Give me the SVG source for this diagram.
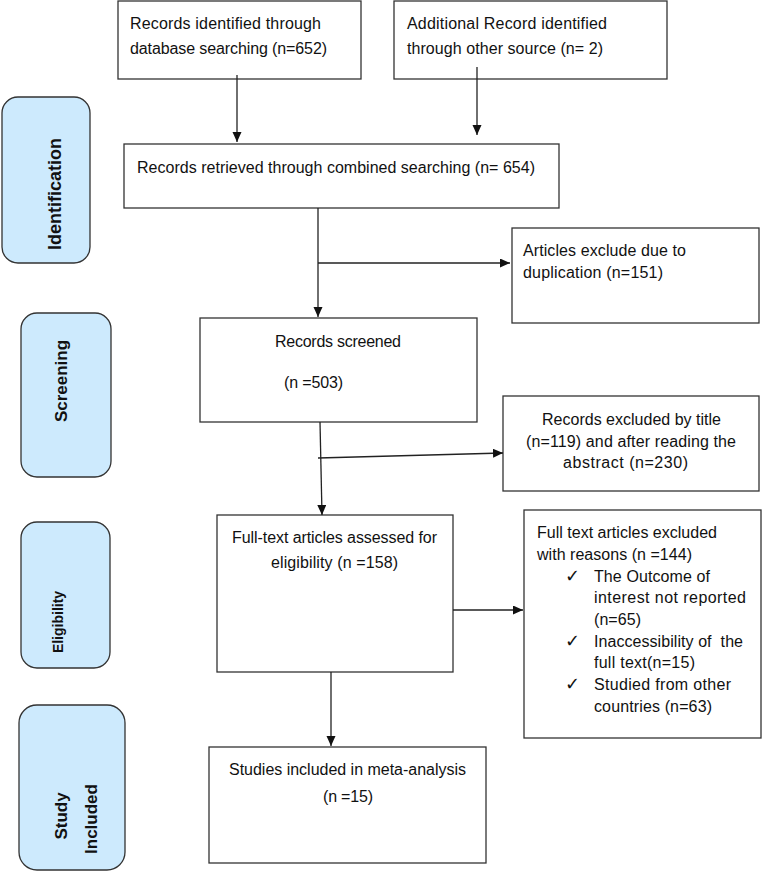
<svg xmlns="http://www.w3.org/2000/svg" width="762" height="872" viewBox="0 0 762 872">
<defs>
<style>
.box{fill:#fff;stroke:#333;stroke-width:1.3}
.side{fill:#cdeafd;stroke:#333;stroke-width:1.3}
.t{font-family:"Liberation Sans",Arial,sans-serif;font-size:16px;fill:#111}
.s{font-family:"Liberation Sans",Arial,sans-serif;font-weight:bold;fill:#111;text-anchor:middle}
.ck{font-family:"DejaVu Sans",sans-serif;font-size:18px;fill:#111}
.ln{fill:none;stroke:#222;stroke-width:1.3}
</style>
<marker id="ah" markerUnits="userSpaceOnUse" markerWidth="11" markerHeight="10" refX="10" refY="4.5" orient="auto">
<path d="M0,0 L10,4.5 L0,9 z" fill="#111"/>
</marker>
</defs>
<rect width="762" height="872" fill="#fff"/>

<g id="side-identification">
<rect class="side" x="2" y="97" width="88" height="166" rx="16"/>
<text class="s" font-size="18" transform="translate(61,194) rotate(-90)">Identification</text>
</g>
<g id="side-screening">
<rect class="side" x="21" y="313" width="90" height="164" rx="16"/>
<text class="s" font-size="17" transform="translate(67,381) rotate(-90)">Screening</text>
</g>
<g id="side-eligibility">
<rect class="side" x="21" y="522" width="89" height="146" rx="16"/>
<text class="s" font-size="14" transform="translate(63,622) rotate(-90)">Eligibility</text>
</g>
<g id="side-included">
<rect class="side" x="19" y="705" width="106" height="165" rx="18"/>
<text class="s" font-size="17" transform="translate(67,816) rotate(-90)">Study</text>
<text class="s" font-size="17" transform="translate(97,819) rotate(-90)">Included</text>
</g>

<g id="n-database">
<rect class="box" x="118" y="1" width="243" height="78"/>
<text class="t" x="130" y="29" textLength="191">Records identified through</text>
<text class="t" x="130" y="54" textLength="197">database searching (n=652)</text>
</g>
<g id="n-other">
<rect class="box" x="394" y="1" width="273" height="78"/>
<text class="t" x="407" y="29" textLength="200">Additional Record identified</text>
<text class="t" x="407" y="54" textLength="196">through other source (n= 2)</text>
</g>
<g id="n-combined">
<rect class="box" x="124" y="144" width="435" height="64"/>
<text class="t" x="137" y="173" textLength="398">Records retrieved through combined searching (n= 654)</text>
</g>
<g id="n-duplicates">
<rect class="box" x="512" y="228" width="247" height="95"/>
<text class="t" x="523" y="256" textLength="163">Articles exclude due to</text>
<text class="t" x="523" y="278" textLength="140">duplication (n=151)</text>
</g>
<g id="n-screened">
<rect class="box" x="200" y="318" width="277" height="104"/>
<text class="t" x="275" y="347" textLength="126">Records screened</text>
<text class="t" x="284" y="388" textLength="59">(n =503)</text>
</g>
<g id="n-excluded-title">
<rect class="box" x="503" y="396" width="256" height="95"/>
<text class="t" x="542" y="425" textLength="179">Records excluded by title</text>
<text class="t" x="526" y="447" textLength="210">(n=119) and after reading the</text>
<text class="t" x="563" y="468" textLength="125">abstract (n=230)</text>
</g>
<g id="n-fulltext">
<rect class="box" x="217" y="515" width="236" height="157"/>
<text class="t" x="232" y="543" textLength="205">Full-text articles assessed for</text>
<text class="t" x="271" y="568" textLength="127">eligibility (n =158)</text>
</g>
<g id="n-fulltext-excluded">
<rect class="box" x="524" y="510" width="237" height="228"/>
<text class="t" x="537" y="538" textLength="180">Full text articles excluded</text>
<text class="t" x="537" y="560" textLength="155">with reasons (n =144)</text>
<text class="ck" x="565" y="582">✓</text>
<text class="t" x="594" y="582" textLength="116">The Outcome of</text>
<text class="t" x="594" y="603" textLength="152">interest not reported</text>
<text class="t" x="594" y="625" textLength="47">(n=65)</text>
<text class="ck" x="565" y="647">✓</text>
<text class="t" x="594" y="647" textLength="149" xml:space="preserve">Inaccessibility of  the</text>
<text class="t" x="594" y="668" textLength="101">full text(n=15)</text>
<text class="ck" x="565" y="690">✓</text>
<text class="t" x="594" y="690" textLength="137">Studied from other</text>
<text class="t" x="594" y="712" textLength="118">countries (n=63)</text>
</g>
<g id="n-included">
<rect class="box" x="209" y="747" width="277" height="116"/>
<text class="t" x="229" y="775" textLength="237">Studies included in meta-analysis</text>
<text class="t" x="323" y="802" textLength="50">(n =15)</text>
</g>

<g id="connectors">
<path class="ln" d="M237,75 L237,142" marker-end="url(#ah)"/>
<path class="ln" d="M477,67 L477,135" marker-end="url(#ah)"/>
<path class="ln" d="M318,208 L318,317" marker-end="url(#ah)"/>
<path class="ln" d="M318,263 L510,263" marker-end="url(#ah)"/>
<path class="ln" d="M320,422 L322,515" marker-end="url(#ah)"/>
<path class="ln" d="M318,458 L503,453" marker-end="url(#ah)"/>
<path class="ln" d="M453,610 L523,610" marker-end="url(#ah)"/>
<path class="ln" d="M331,672 L331,746" marker-end="url(#ah)"/>
</g>
</svg>
